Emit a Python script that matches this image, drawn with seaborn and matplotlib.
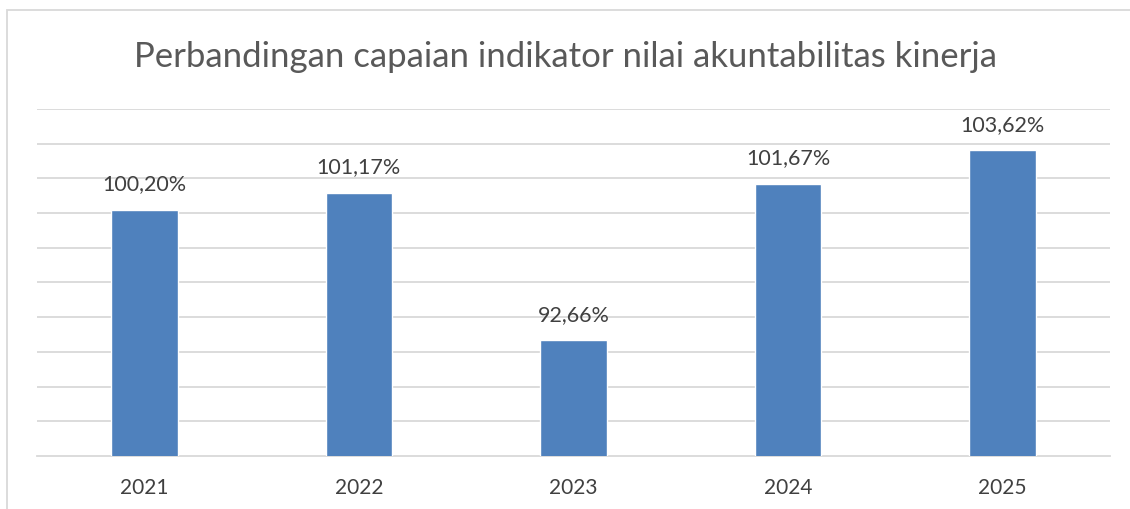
import matplotlib
matplotlib.use('Agg')
import matplotlib.pyplot as plt
from matplotlib.patches import Rectangle
import pandas as pd
import seaborn as sns

# data
years = ['2021', '2022', '2023', '2024', '2025']
values = [100.20, 101.17, 92.66, 101.67, 103.62]
labels = ['100,20%', '101,17%', '92,66%', '101,67%', '103,62%']
title = 'Perbandingan capaian indikator nilai akuntabilitas kinerja'

BAR = '#4f81bd'
GRID = '#d9d9d9'
TEXT = '#404040'

sns.set_style('white')
plt.rcParams['font.family'] = ['Lato', 'DejaVu Sans']

df = pd.DataFrame({'year': years, 'value': values})

fig = plt.figure(figsize=(11.3, 5.1), dpi=100)
ax = fig.add_axes([37 / 1130, 1 - 457 / 510, 1073 / 1130, 347 / 510])

sns.barplot(data=df, x='year', y='value', color=BAR, width=0.31,
            saturation=1, ax=ax, zorder=3)

ax.set_ylim(86, 106)
ax.set_xlim(-0.5, len(years) - 0.5)
ax.set_yticks(range(88, 107, 2))
ax.yaxis.grid(True, color=GRID, linewidth=1.3, zorder=0)
ax.set_yticklabels([])
ax.tick_params(axis='y', length=0)

ax.set_xticks([i - 0.5 for i in range(len(years) + 1)], minor=True)
ax.tick_params(axis='x', which='minor', length=7, color=GRID, width=1.3)
ax.tick_params(axis='x', which='major', length=0, labelsize=15,
               labelcolor=TEXT, pad=15)
ax.set_xlabel('')
ax.set_ylabel('')

for side in ['top', 'right', 'left']:
    ax.spines[side].set_visible(False)
ax.spines['bottom'].set_color(GRID)
ax.spines['bottom'].set_linewidth(1.3)

for i, (v, lab) in enumerate(zip(values, labels)):
    ax.annotate(lab, (i, v), xytext=(0, 12), textcoords='offset points',
                ha='center', va='bottom', fontsize=15.5, color=TEXT)

fig.text(0.5, 1 - 57 / 510, title, ha='center', va='center',
         fontsize=25, color='#595959')

# outer chart frame, cropped on the right and bottom in the reference
fig.patches.append(Rectangle((7 / 1130, -0.05), 1.1, 1 - 11 / 510 + 0.05,
                             transform=fig.transFigure, fill=False,
                             edgecolor=GRID, linewidth=1.3))

fig.savefig('out.png', dpi=100)
